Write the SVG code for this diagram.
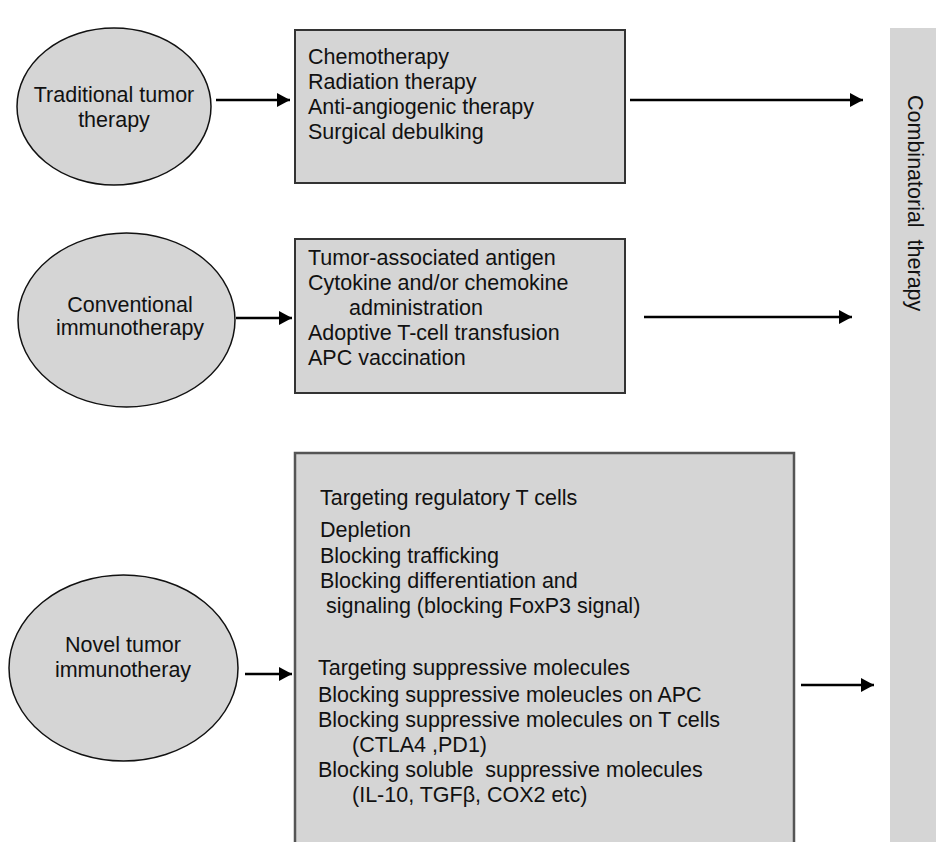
<svg xmlns="http://www.w3.org/2000/svg" width="936" height="842" viewBox="0 0 936 842">
<style>
.shape{fill:#d5d5d5;stroke:#111;stroke-width:1.5}
.box{fill:#d5d5d5;stroke:#333;stroke-width:2}
.t{font-family:"Liberation Sans",Arial,sans-serif;font-size:21.5px;fill:#111;white-space:pre}
.c{text-anchor:middle}
.conn{stroke:#000;stroke-width:2.5;fill:none;marker-end:url(#ah)}
</style>
<defs>
<marker id="ah" markerUnits="userSpaceOnUse" markerWidth="14" markerHeight="14" refX="13" refY="7" orient="auto">
<path d="M0,0 L13,7 L0,14 Z" fill="#000"/>
</marker>
</defs>
<rect width="936" height="842" fill="#fff"/>
<g id="combinatorial">
<rect x="890" y="28" width="46" height="814" fill="#d5d5d5"/>
<text class="t" transform="translate(908,95) rotate(90)">Combinatorial  therapy</text>
</g>
<g id="traditional">
<ellipse class="shape" cx="114" cy="106.5" rx="97" ry="78.5"/>
<text class="t c" x="114" y="102">Traditional tumor</text>
<text class="t c" x="114" y="127">therapy</text>
</g>
<g id="conventional">
<ellipse class="shape" cx="126.5" cy="320" rx="108.5" ry="87"/>
<text class="t c" x="130" y="312">Conventional</text>
<text class="t c" x="130" y="335">immunotherapy</text>
</g>
<g id="novel">
<ellipse class="shape" cx="123.5" cy="668" rx="114.5" ry="93"/>
<text class="t c" x="123" y="652">Novel tumor</text>
<text class="t c" x="123" y="677">immunotheray</text>
</g>
<g id="box-traditional">
<rect class="box" x="295" y="30" width="330" height="153"/>
<text class="t" x="308" y="64">Chemotherapy</text>
<text class="t" x="308" y="89">Radiation therapy</text>
<text class="t" x="308" y="114">Anti-angiogenic therapy</text>
<text class="t" x="308" y="139">Surgical debulking</text>
</g>
<g id="box-conventional">
<rect class="box" x="295" y="239" width="330" height="154"/>
<text class="t" x="308" y="265">Tumor-associated antigen</text>
<text class="t" x="308" y="290">Cytokine and/or chemokine</text>
<text class="t" x="349" y="315">administration</text>
<text class="t" x="308" y="340">Adoptive T-cell transfusion</text>
<text class="t" x="308" y="365">APC vaccination</text>
</g>
<g id="box-novel">
<path d="M295,850 V453 H794 V850" fill="#d5d5d5" stroke="#555" stroke-width="2.5"/>
<text class="t" x="320" y="505">Targeting regulatory T cells</text>
<text class="t" x="320" y="537">Depletion</text>
<text class="t" x="320" y="563">Blocking trafficking</text>
<text class="t" x="320" y="588">Blocking differentiation and</text>
<text class="t" x="326" y="613">signaling (blocking FoxP3 signal)</text>
<text class="t" x="318" y="675">Targeting suppressive molecules</text>
<text class="t" x="318" y="702">Blocking suppressive moleucles on APC</text>
<text class="t" x="318" y="727">Blocking suppressive molecules on T cells</text>
<text class="t" x="352" y="752">(CTLA4 ,PD1)</text>
<text class="t" x="318" y="777">Blocking soluble  suppressive molecules</text>
<text class="t" x="352" y="802">(IL-10, TGFβ, COX2 etc)</text>
</g>
<g id="connectors">
<line class="conn" x1="216" y1="100" x2="290" y2="100"/>
<line class="conn" x1="630" y1="100" x2="863" y2="100"/>
<line class="conn" x1="236" y1="318" x2="292" y2="318"/>
<line class="conn" x1="644" y1="317" x2="852" y2="317"/>
<line class="conn" x1="245" y1="674" x2="292" y2="674"/>
<line class="conn" x1="801" y1="685" x2="874" y2="685"/>
</g>
</svg>
